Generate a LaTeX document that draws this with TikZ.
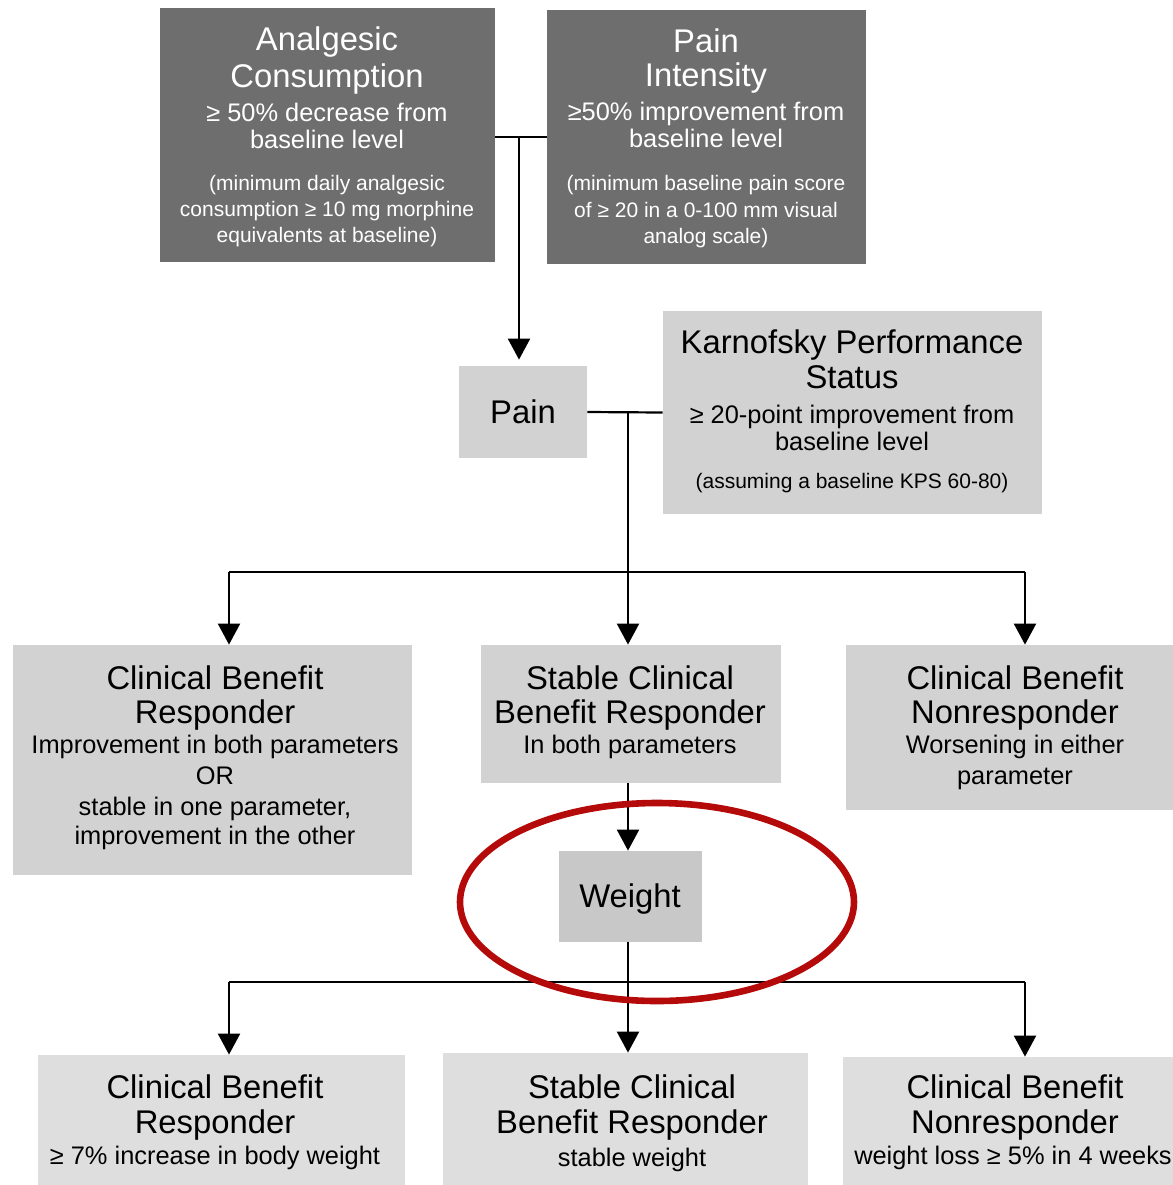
\documentclass[tikz,border=0pt]{standalone}
\usepackage{fontspec}
\setmainfont{Liberation Sans}
\usetikzlibrary{arrows.meta}
\definecolor{darkbox}{HTML}{6E6E6E}
\definecolor{midbox}{HTML}{D2D2D2}
\definecolor{wbox}{HTML}{C8C8C8}
\definecolor{lightbox}{HTML}{DEDEDE}
\definecolor{ellred}{HTML}{B40A0A}
\begin{document}
\begin{tikzpicture}[x=0.5pt,y=-0.5pt,
  box/.style={rectangle,inner sep=0pt,draw=none},
  tl/.style={anchor=base,inner sep=0pt,font=\fontsize{16.4}{18}\selectfont},
  sl/.style={anchor=base,inner sep=0pt,font=\fontsize{12.7}{15}\selectfont},
  ml/.style={anchor=base,inner sep=0pt,font=\fontsize{10.5}{13}\selectfont},
  wt/.style={text=white},
  conn/.style={line width=1.1pt},
  arr/.style={conn,-{Triangle[length=10.5pt,width=11pt]}}]
\useasboundingbox (0,0) rectangle (1173,1185);
% boxes
\node[box,fill=darkbox,minimum width=167.5pt,minimum height=127pt] (ac) at (327.5,135) {};
\node[box,fill=darkbox,minimum width=159.5pt,minimum height=127pt] (pi) at (706.5,137) {};
\node[box,fill=midbox,minimum width=64pt,minimum height=46pt] (pain) at (523,412) {};
\node[box,fill=midbox,minimum width=189.5pt,minimum height=101.5pt] (kps) at (852.5,412.5) {};
\node[box,fill=midbox,minimum width=199.5pt,minimum height=115pt] (r1) at (212.5,760) {};
\node[box,fill=midbox,minimum width=150pt,minimum height=69pt] (s1) at (631,714) {};
\node[box,fill=midbox,minimum width=163.5pt,minimum height=82.5pt] (n1) at (1009.5,727.5) {};
\node[box,fill=wbox,minimum width=71.5pt,minimum height=45.5pt] (weight) at (630.5,896.5) {};
\node[box,fill=lightbox,minimum width=183.5pt,minimum height=65pt] (r2) at (221.5,1120) {};
\node[box,fill=lightbox,minimum width=182.5pt,minimum height=66pt] (s2) at (625.5,1119) {};
\node[box,fill=lightbox,minimum width=165pt,minimum height=64pt] (n2) at (1008,1121) {};
% texts
\node[tl,wt] (ac1) at (327,50) {Analgesic};
\node[tl,wt] (ac2) at (327,87) {Consumption};
\node[sl,wt] (ac3) at (327,121) {≥ 50\% decrease from};
\node[sl,wt] (ac4) at (327,148) {baseline level};
\node[ml,wt] (ac5) at (327,190) {(minimum daily analgesic};
\node[ml,wt] (ac6) at (327,216) {consumption ≥ 10 mg morphine};
\node[ml,wt] (ac7) at (327,242) {equivalents at baseline)};
\node[tl,wt] (pi1) at (706,52) {Pain};
\node[tl,wt] (pi2) at (706,86) {Intensity};
\node[sl,wt] (pi3) at (706,120) {≥50\% improvement from};
\node[sl,wt] (pi4) at (706,147) {baseline level};
\node[ml,wt] (pi5) at (706,190) {(minimum baseline pain score};
\node[ml,wt] (pi6) at (706,217) {of ≥ 20 in a 0-100 mm visual};
\node[ml,wt] (pi7) at (706,243) {analog scale)};
\node[tl] (pa1) at (523,423) {Pain};
\node[tl] (kp1) at (852,353) {Karnofsky Performance};
\node[tl] (kp2) at (852,388) {Status};
\node[sl] (kp3) at (852,423) {≥ 20-point improvement from};
\node[sl] (kp4) at (852,450) {baseline level};
\node[ml] (kp5) at (852,488) {(assuming a baseline KPS 60-80)};
\node[tl] (ra1) at (215,689) {Clinical Benefit};
\node[tl] (ra2) at (215,723) {Responder};
\node[sl] (ra3) at (215,753) {Improvement in both parameters};
\node[sl] (ra4) at (215,784) {OR};
\node[sl] (ra5) at (215,815) {stable in one parameter,};
\node[sl] (ra6) at (215,844) {improvement in the other};
\node[tl] (sa1) at (630,689) {Stable Clinical};
\node[tl] (sa2) at (630,723) {Benefit Responder};
\node[sl] (sa3) at (630,753) {In both parameters};
\node[tl] (na1) at (1015,689) {Clinical Benefit};
\node[tl] (na2) at (1015,723) {Nonresponder};
\node[sl] (na3) at (1015,753) {Worsening in either};
\node[sl] (na4) at (1015,784) {parameter};
\node[tl] (we1) at (630,907) {Weight};
\node[tl] (rb1) at (215,1098) {Clinical Benefit};
\node[tl] (rb2) at (215,1133) {Responder};
\node[sl] (rb3) at (215,1164) {≥ 7\% increase in body weight};
\node[tl] (sb1) at (632,1098) {Stable Clinical};
\node[tl] (sb2) at (632,1133) {Benefit Responder};
\node[sl] (sb3) at (632,1166) {stable weight};
\node[tl] (nb1) at (1015,1098) {Clinical Benefit};
\node[tl] (nb2) at (1015,1133) {Nonresponder};
\node[sl] (nb3) at (1013,1164) {weight loss ≥ 5\% in 4 weeks};
% connectors
\coordinate (j1) at (519,137);
\draw[conn] (ac.east |- j1) -- (pi.west |- j1);
\draw[arr,shorten >=3pt] (j1) -- (j1 |- pain.north);
\coordinate (j2) at (628,412);
\draw[conn] (pain.east) -- (kps.west);
\coordinate (j3) at (628,572);
\coordinate (b1l) at (229,572);
\coordinate (b1r) at (1025,572);
\draw[conn] (j2) -- (j3);
\draw[conn] (b1l) -- (b1r);
\draw[arr] (b1l) -- (b1l |- r1.north);
\draw[arr] (j3) -- (j3 |- s1.north);
\draw[arr] (b1r) -- (b1r |- n1.north);
\draw[arr] (j3 |- s1.south) -- (j3 |- weight.north);
\coordinate (j4) at (628,982);
\coordinate (b2l) at (229,982);
\coordinate (b2r) at (1025,982);
\draw[conn] (j4 |- weight.south) -- (j4);
\draw[conn] (b2l) -- (b2r);
\draw[arr] (b2l) -- (b2l |- r2.north);
\draw[arr] (j4) -- (j4 |- s2.north);
\draw[arr] (b2r) -- (b2r |- n2.north);
% highlight ellipse
\draw[line width=3.3pt,ellred] (657,902) ellipse [x radius=197, y radius=99];
\end{tikzpicture}
\end{document}
